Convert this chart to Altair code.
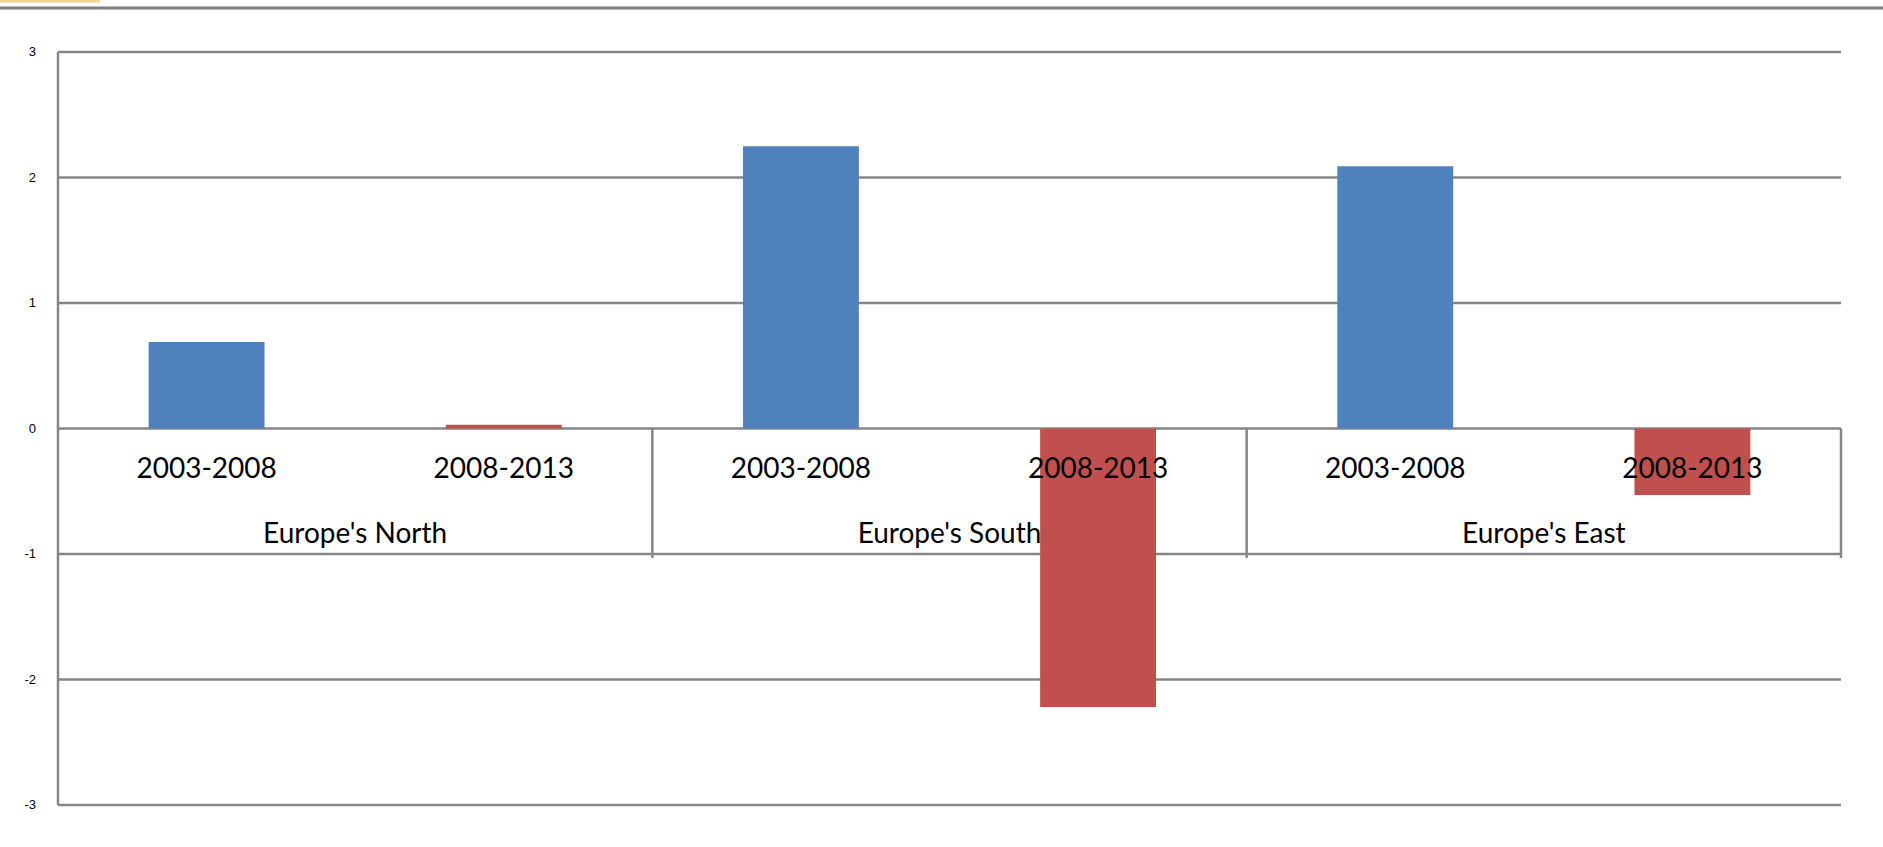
import altair as alt
import pandas as pd

# ---- data ----
groups = ["Europe's North", "Europe's South", "Europe's East"]
periods = ["2003-2008", "2008-2013"]
values_2003_2008 = [0.69, 2.25, 2.09]
values_2008_2013 = [0.03, -2.22, -0.53]
y_ticks = [-3, -2, -1, 0, 1, 2, 3]
bar_colors = ["#4f81bd", "#c0504d"]

series = [values_2003_2008, values_2008_2013]
rows = []
for gi, g in enumerate(groups):
    for pi, p in enumerate(periods):
        rows.append({"group": g, "period": p, "value": series[pi][gi],
                     "slot": gi * len(periods) + pi})
bars_df = pd.DataFrame(rows)
groups_df = pd.DataFrame({"group": groups, "gidx": list(range(len(groups)))})
ticks_df = pd.DataFrame({"t": y_ticks, "label": [str(t) for t in y_ticks]})

n_slots = len(groups) * len(periods)
half_bar = 0.195  # half bar width in slot units

W, H = 1783, 753
PAD = {"left": 58, "top": 52, "right": 42, "bottom": 42}
GRID = "#868686"
FONT = "Lato"

xscale = alt.Scale(domain=[0, n_slots], nice=False, zero=False)
yscale = alt.Scale(domain=[y_ticks[0], y_ticks[-1]], nice=False, zero=False)

# horizontal gridlines (one per tick value)
grid = alt.Chart(ticks_df).mark_rule(color=GRID, strokeWidth=2.5).encode(
    y=alt.Y("t:Q", scale=yscale, axis=None),
    x=alt.value(0), x2=alt.value(W),
)

# left value axis line
axis_line = alt.Chart(pd.DataFrame({"lo": [y_ticks[0]], "hi": [y_ticks[-1]]})).mark_rule(
    color=GRID, strokeWidth=2.5
).encode(
    x=alt.value(0),
    y=alt.Y("lo:Q", scale=yscale, axis=None),
    y2="hi:Q",
)

y_labels = alt.Chart(ticks_df).mark_text(
    font="Liberation Sans Narrow, Liberation Sans, sans-serif", fontSize=13,
    color="#000000", align="right", baseline="middle"
).encode(
    x=alt.value(-22),
    y=alt.Y("t:Q", scale=yscale, axis=None),
    text="label:N",
)

base = alt.Chart(bars_df)

bars = base.transform_calculate(
    x0=f"datum.slot + 0.5 - {half_bar}", x1=f"datum.slot + 0.5 + {half_bar}"
).mark_bar().encode(
    x=alt.X("x0:Q", scale=xscale, axis=None),
    x2="x1:Q",
    y=alt.Y("value:Q", scale=yscale, axis=None),
    y2=alt.datum(0),
    color=alt.Color("period:N", scale=alt.Scale(domain=periods, range=bar_colors),
                    legend=None),
)

dividers = alt.Chart(groups_df).transform_calculate(
    b=f"(datum.gidx + 1) * {len(periods)}"
).mark_rule(color=GRID, strokeWidth=2.5, y2Offset=4).encode(
    x=alt.X("b:Q", scale=xscale, axis=None),
    y=alt.datum(0),
    y2=alt.datum(-1),
)

period_labels = base.transform_calculate(
    cx="datum.slot + 0.5"
).mark_text(font=FONT, fontSize=28, color="#000000", baseline="middle",
            align="center", dy=41).encode(
    x=alt.X("cx:Q", scale=xscale, axis=None),
    y=alt.datum(0),
    text="period:N",
)

group_labels = alt.Chart(groups_df).transform_calculate(
    cx=f"datum.gidx * {len(periods)} + {len(periods) / 2}"
).mark_text(font=FONT, fontSize=28, color="#000000", baseline="middle",
            align="center", dy=106).encode(
    x=alt.X("cx:Q", scale=xscale, axis=None),
    y=alt.datum(0),
    text="group:N",
)

deco_df = pd.DataFrame({"d": [0]})
top_line = alt.Chart(deco_df).mark_rule(color="#7f7f7f", strokeWidth=3).encode(
    x=alt.value(-PAD["left"]), x2=alt.value(W + PAD["right"]),
    y=alt.value(8 - PAD["top"]),
)
top_accent = alt.Chart(deco_df).mark_rule(color="#f3d595", strokeWidth=3).encode(
    x=alt.value(-PAD["left"]), x2=alt.value(100 - PAD["left"]),
    y=alt.value(1 - PAD["top"]),
)

chart = alt.layer(
    grid, axis_line, y_labels, bars, dividers, period_labels, group_labels,
    top_line, top_accent
).resolve_scale(x="shared", y="shared").properties(
    width=W, height=H, padding=PAD,
    autosize=alt.AutoSizeParams(type="none"),
    background="#ffffff",
).configure_view(strokeWidth=0)

chart.save("out.html", embed_options={"renderer": "svg", "actions": False})
